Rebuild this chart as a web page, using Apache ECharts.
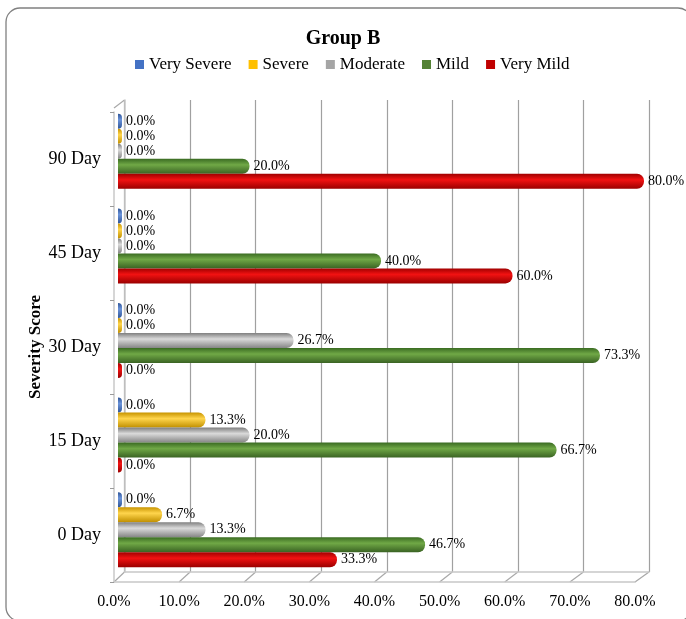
<!DOCTYPE html>
<html>
<head>
<meta charset="utf-8">
<script src="https://cdn.jsdelivr.net/npm/echarts@6/dist/echarts.min.js"></script>
<style>html,body{margin:0;padding:0;background:#fff}#c{width:686px;height:619px}</style>
</head>
<body>
<div id="c"></div>
<script>
const categories = ['0 Day', '15 Day', '30 Day', '45 Day', '90 Day'];
const seriesNames = ['Very Severe', 'Severe', 'Moderate', 'Mild', 'Very Mild'];
const verySevere = [0.0, 0.0, 0.0, 0.0, 0.0];
const severe = [6.7, 13.3, 0.0, 0.0, 0.0];
const moderate = [13.3, 20.0, 26.7, 0.0, 0.0];
const mild = [46.7, 66.7, 73.3, 40.0, 20.0];
const veryMild = [33.3, 0.0, 0.0, 60.0, 80.0];
const xTicks = [0, 10, 20, 30, 40, 50, 60, 70, 80];

const FONT = '"Liberation Serif", "Times New Roman", serif';
const baseColors = ['#4472C4', '#FFC000', '#A5A5A5', '#548235', '#C00000'];
const shades = [
  ['#2F5597', '#6A93DA', '#2F5597'],
  ['#C89400', '#FFD54D', '#C08F00'],
  ['#7F7F7F', '#DADADA', '#858585'],
  ['#3A6B22', '#70A846', '#3A6323'],
  ['#A00000', '#F21212', '#9A0000']
];
const values = [verySevere, severe, moderate, mild, veryMild];

function grad(s) {
  return new echarts.graphic.LinearGradient(0, 0, 0, 1, [
    {offset: 0, color: s[0]}, {offset: 0.4, color: s[1]}, {offset: 1, color: s[2]}
  ]);
}

const chart = echarts.init(document.getElementById('c'), null, {renderer: 'canvas'});

const series = seriesNames.map((name, i) => ({
  name: name,
  type: 'bar',
  xAxisIndex: 2,
  yAxisIndex: 2,
  data: values[i],
  barWidth: 15,
  barGap: '0%',
  barMinHeight: 4,
  itemStyle: {color: grad(shades[i]), borderRadius: [0, 7, 7, 0]},
  label: {
    show: true,
    position: 'right',
    distance: 4,
    color: '#000',
    fontFamily: FONT,
    fontSize: 14,
    formatter: p => p.value.toFixed(1) + '%'
  }
}));

const option = {
  backgroundColor: '#fff',
  animation: false,
  title: {
    text: 'Group B',
    left: 'center',
    top: 24,
    textStyle: {fontFamily: FONT, fontSize: 20, fontWeight: 'bold', color: '#000'}
  },
  legend: {
    top: 51,
    left: 130,
    icon: 'rect',
    itemWidth: 9,
    itemHeight: 9,
    itemGap: 17,
    textStyle: {fontFamily: FONT, fontSize: 17, color: '#000'},
    data: seriesNames.map((n, i) => ({name: n, itemStyle: {color: baseColors[i]}}))
  },
  grid: [
    {left: 124.5, right: 37, top: 100, bottom: 47},
    {left: 114, width: 521, top: 112, bottom: 37},
    {left: 118, right: 42, top: 104, bottom: 42}
  ],
  xAxis: [
    {gridIndex: 0, type: 'value', min: 0, max: 80, interval: 10,
     axisLine: {show: true, lineStyle: {color: '#C8C8C8', width: 1.5}}, axisTick: {show: false},
     axisLabel: {show: false},
     splitLine: {show: true, lineStyle: {color: '#A0A0A0', width: 1.2}}},
    {gridIndex: 1, type: 'value', min: 0, max: 80, interval: 10,
     axisLine: {show: true, lineStyle: {color: '#C8C8C8', width: 1.5}}, axisTick: {show: false},
     axisLabel: {show: true, margin: 12, color: '#000', fontFamily: FONT, fontSize: 16,
       formatter: v => v.toFixed(1) + '%'},
     splitLine: {show: false}},
    {gridIndex: 2, type: 'value', min: 0, max: 80, show: false}
  ],
  yAxis: [
    {gridIndex: 0, type: 'category', data: categories,
     axisLine: {show: true, lineStyle: {color: '#C8C8C8', width: 1.5}}, axisTick: {show: false},
     axisLabel: {show: false}, splitLine: {show: false}},
    {gridIndex: 1, type: 'category', data: categories,
     axisLine: {show: true, lineStyle: {color: '#C8C8C8', width: 1.5}},
     axisTick: {show: true, length: 4, lineStyle: {color: '#9A9A9A'}},
     axisLabel: {show: true, margin: 13, color: '#000', fontFamily: FONT, fontSize: 18},
     name: 'Severity Score', nameLocation: 'middle', nameGap: 70, nameRotate: 90,
     nameMoveOverlap: false,
     nameTextStyle: {fontFamily: FONT, fontSize: 17, fontWeight: 'bold', color: '#000'}},
    {gridIndex: 2, type: 'category', data: categories, show: false}
  ],
  graphic: [
    {id: 'border', type: 'rect', silent: true, z: -1,
     shape: {x: 6, y: 8, width: 686, height: 613, r: 14},
     style: {fill: 'none', stroke: '#808080', lineWidth: 1.3}}
  ],
  series: series
};

chart.setOption(option);

// 3D floor connectors from the front axis to the back wall
const extra = [];
xTicks.forEach((v, k) => {
  const f = chart.convertToPixel({xAxisIndex: 1}, v);
  const b = chart.convertToPixel({xAxisIndex: 0}, v);
  extra.push({id: 'conn' + k, type: 'line', silent: true,
    shape: {x1: f, y1: 582, x2: b, y2: 572},
    style: {stroke: '#A8A8A8', lineWidth: 1.2}});
});
extra.push({id: 'connTop', type: 'line', silent: true,
  shape: {x1: 114, y1: 108, x2: 124.5, y2: 100},
  style: {stroke: '#A8A8A8', lineWidth: 1.2}});
chart.setOption({graphic: extra});
</script>
</body>
</html>
